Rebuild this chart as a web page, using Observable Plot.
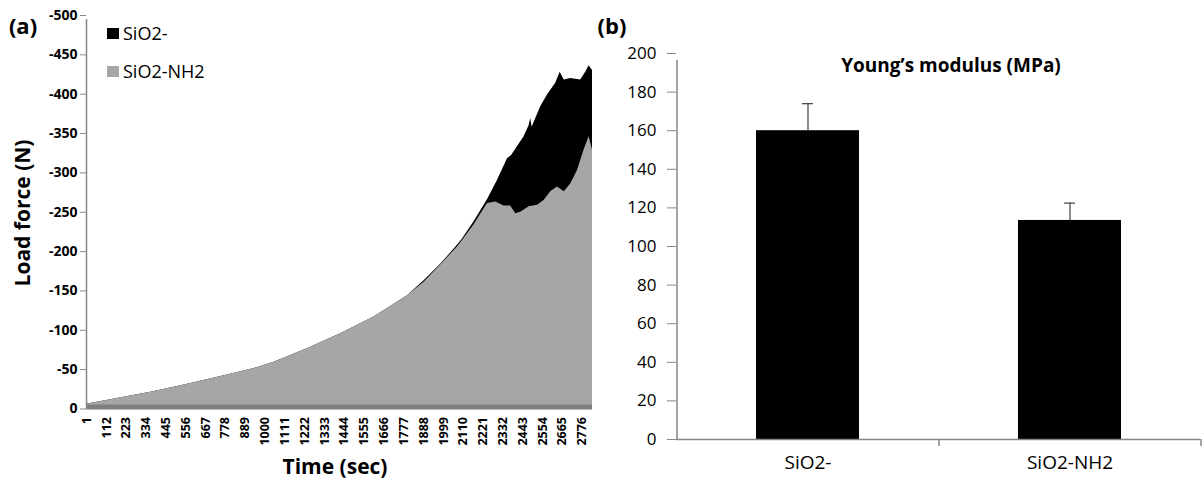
<!DOCTYPE html>
<html>
<head>
<meta charset="utf-8">
<script src="https://cdn.jsdelivr.net/npm/d3@7"></script>
<script src="https://cdn.jsdelivr.net/npm/@observablehq/plot@0.6"></script>
<style>
  html, body { margin: 0; padding: 0; background: #fff; }
  #wrap { position: relative; width: 1204px; height: 481px; font-family: "Open Sans", sans-serif; color: #000; overflow: hidden; }
  .ov { position: absolute; white-space: nowrap; transform: translate(-50%, -50%); line-height: 1; }
  .sw { position: absolute; width: 12px; height: 11px; }
</style>
</head>
<body>
<div id="wrap">
  <div id="chartA" style="position:absolute;left:0;top:0"></div>
  <div id="chartB" style="position:absolute;left:600px;top:0"></div>
  <div class="ov" style="left:23px;top:25px;font-weight:bold;font-size:22px">(a)</div>
  <div class="ov" style="left:612px;top:25px;font-weight:bold;font-size:22px">(b)</div>
  <div class="ov" style="left:22px;top:213px;font-weight:bold;font-size:21px;transform:translate(-50%,-50%) rotate(-90deg)">Load force (N)</div>
  <div class="ov" style="left:335px;top:466px;font-weight:bold;font-size:21px">Time (sec)</div>
  <div class="ov" style="left:951px;top:65px;font-weight:bold;font-size:19px">Young’s modulus (MPa)</div>
  <div class="sw" style="left:107px;top:28px;background:#000"></div>
  <div class="ov" style="left:123px;top:33px;font-size:18px;transform:translate(0,-50%)">SiO2-</div>
  <div class="sw" style="left:107px;top:66px;background:#a6a6a6"></div>
  <div class="ov" style="left:123px;top:71px;font-size:18px;transform:translate(0,-50%)">SiO2-NH2</div>
</div>
<script>
// ---- Panel (a): load force vs time ----
const timeSiO2 = [0, 187, 374, 560, 747, 934, 1050, 1236, 1423, 1610, 1797, 1890, 1983, 2077, 2105, 2170, 2245, 2300, 2357, 2380, 2450, 2478, 2487, 2495, 2543, 2581, 2627, 2652, 2675, 2711, 2767, 2795, 2814, 2833];
const loadSiO2 = [6, 14, 22, 31, 41, 51, 59.5, 76.5, 95.5, 117, 144, 163, 184, 208, 216, 238, 266, 290, 318, 322, 346, 360, 369, 358, 384, 399, 414, 428, 418, 420, 418, 428, 436, 430];
const timeNH2 = [0, 187, 374, 560, 747, 934, 1050, 1236, 1423, 1610, 1797, 1890, 1983, 2077, 2105, 2170, 2245, 2291, 2338, 2375, 2403, 2431, 2478, 2525, 2562, 2599, 2637, 2675, 2711, 2749, 2786, 2814, 2833];
const loadNH2 = [6, 14, 22, 31, 41, 51, 59.5, 76.5, 95.5, 117, 144, 161, 183, 206, 214, 234, 261, 263, 258, 258, 248, 250, 257, 259, 265, 276, 282, 276, 286, 303, 329, 346, 329];
const timeTicks = [1, 112, 223, 334, 445, 556, 667, 778, 889, 1000, 1111, 1222, 1333, 1444, 1555, 1666, 1777, 1888, 1999, 2110, 2221, 2332, 2443, 2554, 2665, 2776];
const loadTicks = [0, -50, -100, -150, -200, -250, -300, -350, -400, -450, -500];

// ---- Panel (b): Young's modulus ----
const groups = ["SiO2-", "SiO2-NH2"];
const modulus = [160, 113.5];
const modulusErr = [14, 9];
const modulusTicks = [0, 20, 40, 60, 80, 100, 120, 140, 160, 180, 200];

const axisGray = "#868686";

const rowsSiO2 = timeSiO2.map((t, i) => ({t, v: -loadSiO2[i]}));
const rowsNH2 = timeNH2.map((t, i) => ({t, v: -loadNH2[i]}));

const chartA = Plot.plot({
  width: 600, height: 481,
  marginLeft: 86, marginRight: 8, marginTop: 15, marginBottom: 72.5,
  style: {fontFamily: "Open Sans", background: "transparent"},
  x: {domain: [0, 2833]},
  y: {domain: [0, -500]},
  marks: [
    Plot.areaY(rowsSiO2, {x: "t", y: "v", fill: "#000"}),
    Plot.areaY(rowsNH2, {x: "t", y: "v", fill: "#a6a6a6"}),
    Plot.ruleY([0], {stroke: "#7f7f7f", strokeWidth: 5, dy: -2}),
    Plot.ruleX([0], {y1: 0, y2: -500, stroke: axisGray, strokeWidth: 1.5, insetBottom: -4}),
    Plot.axisY({ticks: loadTicks, tickFormat: d => String(d), tickSize: 6, tickPadding: 3,
      stroke: axisGray, fill: "#000", fontWeight: "bold", fontSize: 14, label: null}),
    Plot.axisX({ticks: timeTicks, tickFormat: d => String(d), tickRotate: -90, tickSize: 0, tickPadding: 8,
      fill: "#000", fontWeight: "bold", fontSize: 12.5, label: null})
  ]
});
document.getElementById("chartA").appendChild(chartA);

const rowsB = groups.map((g, i) => ({g, m: modulus[i], e: modulusErr[i]}));
const stepB = (604 - 76 - 4) / groups.length;

const chartB = Plot.plot({
  width: 604, height: 481,
  marginLeft: 76, marginRight: 4, marginTop: 53, marginBottom: 42,
  style: {fontFamily: "Open Sans", background: "transparent"},
  x: {domain: groups, paddingInner: 0.607, paddingOuter: 0.3035},
  y: {domain: [0, 200]},
  marks: [
    Plot.barY(rowsB, {x: "g", y: "m", fill: "#000"}),
    Plot.ruleX(rowsB, {x: "g", y1: "m", y2: d => d.m + d.e, stroke: "#404040", strokeWidth: 1.2}),
    Plot.tickY(rowsB, {x: "g", y: d => d.m + d.e, stroke: "#404040", strokeWidth: 1.2, insetLeft: 46, insetRight: 46}),
    Plot.ruleY([0], {stroke: axisGray, strokeWidth: 1.5}),
    Plot.ruleX([groups[0]], {x: d => d, dx: -stepB / 2, y1: 0, y2: 200, stroke: axisGray, strokeWidth: 1.5, insetBottom: -7}),
    Plot.ruleX(groups, {x: d => d, dx: stepB / 2, y1: 0, y2: 0, stroke: axisGray, strokeWidth: 1.5, insetBottom: -7}),
    Plot.axisY({ticks: modulusTicks, tickSize: 9, tickPadding: 11, stroke: axisGray, fill: "#000", fontSize: 17, label: null}),
    Plot.axisX({tickSize: 0, tickPadding: 16, fill: "#000", fontSize: 19, label: null})
  ]
});
document.getElementById("chartB").appendChild(chartB);
</script>
</body>
</html>
